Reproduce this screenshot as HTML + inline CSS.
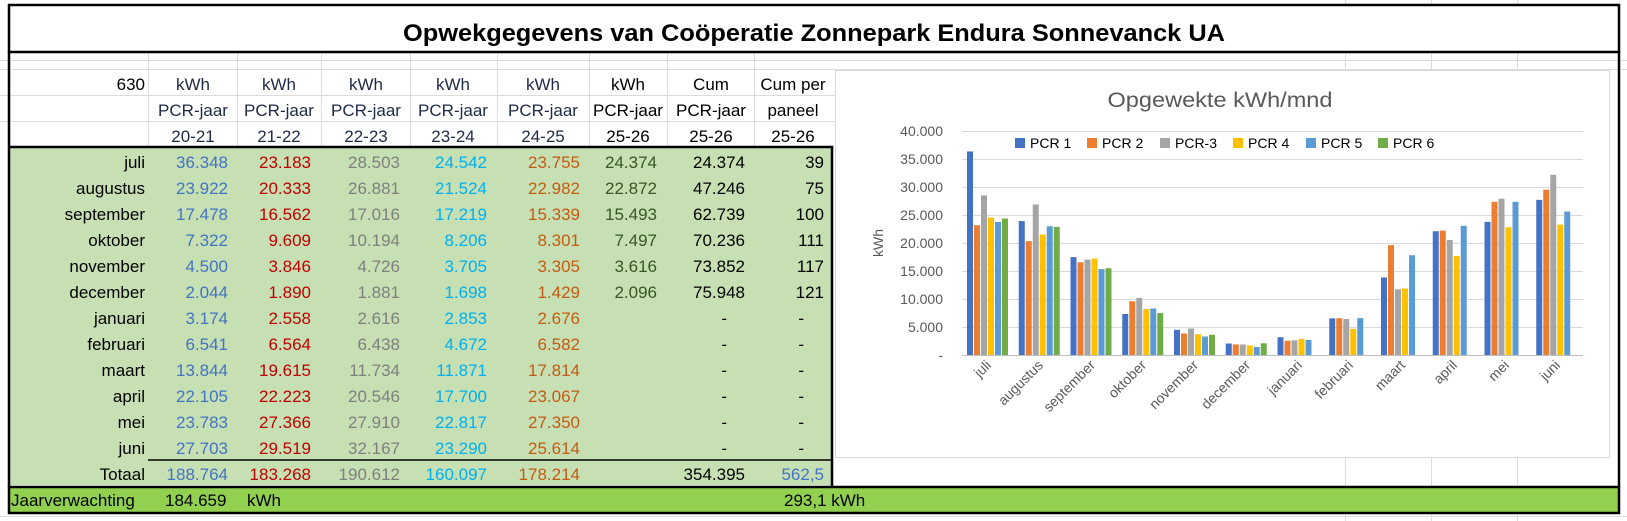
<!DOCTYPE html>
<html><head><meta charset="utf-8"><style>
html,body{margin:0;padding:0;background:#fff;}
svg{display:block;font-family:"Liberation Sans",Arial,sans-serif;}
</style></head><body>
<svg id="s" width="1627" height="521" viewBox="0 0 1627 521" xmlns="http://www.w3.org/2000/svg">
<!-- excel gridlines -->
<g stroke="#dcdcdc" stroke-width="1">
<line x1="0" y1="69.5" x2="1627" y2="69.5"/><line x1="0" y1="95.5" x2="835" y2="95.5"/><line x1="0" y1="121.5" x2="835" y2="121.5"/>
<line x1="0" y1="60.5" x2="1627" y2="60.5"/>
<line x1="148.5" y1="53" x2="148.5" y2="147"/><line x1="237.5" y1="53" x2="237.5" y2="147"/><line x1="321.5" y1="53" x2="321.5" y2="147"/>
<line x1="410.5" y1="53" x2="410.5" y2="147"/><line x1="497.5" y1="53" x2="497.5" y2="147"/><line x1="589.5" y1="53" x2="589.5" y2="147"/>
<line x1="667.5" y1="53" x2="667.5" y2="147"/><line x1="754.5" y1="53" x2="754.5" y2="147"/>
<line x1="1345.5" y1="0" x2="1345.5" y2="521"/><line x1="1431.5" y1="0" x2="1431.5" y2="521"/><line x1="1517.5" y1="0" x2="1517.5" y2="521"/>
<line x1="0" y1="516.5" x2="1627" y2="516.5"/>
</g>
<!-- green table -->
<rect x="9" y="147" width="823" height="338" fill="#c6e0b4"/>
<line x1="148" y1="460" x2="832" y2="460" stroke="#000" stroke-width="1.5"/>
<!-- bottom bar -->
<rect x="9" y="487" width="1610" height="26" fill="#92d050" stroke="#000" stroke-width="2.5"/>
<!-- frames -->
<rect x="9" y="5" width="1610" height="47" fill="#fff" stroke="#000" stroke-width="2.5"/>
<line x1="9" y1="52" x2="9" y2="487" stroke="#000" stroke-width="2.5"/>
<line x1="1619" y1="52" x2="1619" y2="487" stroke="#000" stroke-width="2.5"/>
<path d="M9 147 H832 V487" fill="none" stroke="#000" stroke-width="2.5"/>
<text x="814" y="41" text-anchor="middle" font-size="24" font-weight="bold" textLength="822" lengthAdjust="spacingAndGlyphs">Opwekgegevens van Coöperatie Zonnepark Endura Sonnevanck UA</text>

<!-- headers -->
<g font-size="17" text-anchor="middle" fill="#1f2a44">
<text x="145" y="90" text-anchor="end" fill="#000">630</text>
<text x="193" y="90">kWh</text><text x="279" y="90">kWh</text><text x="366" y="90">kWh</text><text x="453" y="90">kWh</text><text x="543" y="90">kWh</text><text x="628" y="90" fill="#000">kWh</text><text x="711" y="90" fill="#000">Cum</text><text x="793" y="90" fill="#000">Cum per</text>
<text x="193" y="116">PCR-jaar</text><text x="279" y="116">PCR-jaar</text><text x="366" y="116">PCR-jaar</text><text x="453" y="116">PCR-jaar</text><text x="543" y="116">PCR-jaar</text><text x="628" y="116" fill="#000">PCR-jaar</text><text x="711" y="116" fill="#000">PCR-jaar</text><text x="793" y="116" fill="#000">paneel</text>
<text x="193" y="142">20-21</text><text x="279" y="142">21-22</text><text x="366" y="142">22-23</text><text x="453" y="142">23-24</text><text x="543" y="142">24-25</text><text x="628" y="142" fill="#000">25-26</text><text x="711" y="142" fill="#000">25-26</text><text x="793" y="142" fill="#000">25-26</text>
</g>
<!-- labels -->
<g font-size="17" text-anchor="end" fill="#000">
<text x="145" y="168">juli</text><text x="145" y="194">augustus</text><text x="145" y="220">september</text><text x="145" y="246">oktober</text><text x="145" y="272">november</text><text x="145" y="298">december</text><text x="145" y="324">januari</text><text x="145" y="350">februari</text><text x="145" y="376">maart</text><text x="145" y="402">april</text><text x="145" y="428">mei</text><text x="145" y="454">juni</text><text x="145" y="480">Totaal</text>
</g>
<g font-size="17" text-anchor="end" fill="#4472c4">
<text x="228" y="168">36.348</text><text x="228" y="194">23.922</text><text x="228" y="220">17.478</text><text x="228" y="246">7.322</text><text x="228" y="272">4.500</text><text x="228" y="298">2.044</text><text x="228" y="324">3.174</text><text x="228" y="350">6.541</text><text x="228" y="376">13.844</text><text x="228" y="402">22.105</text><text x="228" y="428">23.783</text><text x="228" y="454">27.703</text><text x="228" y="480">188.764</text>
<text x="824" y="480">562,5</text>
</g>
<g font-size="17" text-anchor="end" fill="#c00000">
<text x="311" y="168">23.183</text><text x="311" y="194">20.333</text><text x="311" y="220">16.562</text><text x="311" y="246">9.609</text><text x="311" y="272">3.846</text><text x="311" y="298">1.890</text><text x="311" y="324">2.558</text><text x="311" y="350">6.564</text><text x="311" y="376">19.615</text><text x="311" y="402">22.223</text><text x="311" y="428">27.366</text><text x="311" y="454">29.519</text><text x="311" y="480">183.268</text>
</g>
<g font-size="17" text-anchor="end" fill="#7f7f7f">
<text x="400" y="168">28.503</text><text x="400" y="194">26.881</text><text x="400" y="220">17.016</text><text x="400" y="246">10.194</text><text x="400" y="272">4.726</text><text x="400" y="298">1.881</text><text x="400" y="324">2.616</text><text x="400" y="350">6.438</text><text x="400" y="376">11.734</text><text x="400" y="402">20.546</text><text x="400" y="428">27.910</text><text x="400" y="454">32.167</text><text x="400" y="480">190.612</text>
</g>
<g font-size="17" text-anchor="end" fill="#00b0f0">
<text x="487" y="168">24.542</text><text x="487" y="194">21.524</text><text x="487" y="220">17.219</text><text x="487" y="246">8.206</text><text x="487" y="272">3.705</text><text x="487" y="298">1.698</text><text x="487" y="324">2.853</text><text x="487" y="350">4.672</text><text x="487" y="376">11.871</text><text x="487" y="402">17.700</text><text x="487" y="428">22.817</text><text x="487" y="454">23.290</text><text x="487" y="480">160.097</text>
</g>
<g font-size="17" text-anchor="end" fill="#c55a11">
<text x="580" y="168">23.755</text><text x="580" y="194">22.982</text><text x="580" y="220">15.339</text><text x="580" y="246">8.301</text><text x="580" y="272">3.305</text><text x="580" y="298">1.429</text><text x="580" y="324">2.676</text><text x="580" y="350">6.582</text><text x="580" y="376">17.814</text><text x="580" y="402">23.067</text><text x="580" y="428">27.350</text><text x="580" y="454">25.614</text><text x="580" y="480">178.214</text>
</g>
<g font-size="17" text-anchor="end" fill="#375623">
<text x="657" y="168">24.374</text><text x="657" y="194">22.872</text><text x="657" y="220">15.493</text><text x="657" y="246">7.497</text><text x="657" y="272">3.616</text><text x="657" y="298">2.096</text>
</g>
<g font-size="17" text-anchor="end" fill="#000">
<text x="745" y="168">24.374</text><text x="745" y="194">47.246</text><text x="745" y="220">62.739</text><text x="745" y="246">70.236</text><text x="745" y="272">73.852</text><text x="745" y="298">75.948</text>
<text x="727" y="324">-</text><text x="727" y="350">-</text><text x="727" y="376">-</text><text x="727" y="402">-</text><text x="727" y="428">-</text><text x="727" y="454">-</text>
<text x="745" y="480">354.395</text>
<text x="824" y="168">39</text><text x="824" y="194">75</text><text x="824" y="220">100</text><text x="824" y="246">111</text><text x="824" y="272">117</text><text x="824" y="298">121</text>
<text x="804" y="324">-</text><text x="804" y="350">-</text><text x="804" y="376">-</text><text x="804" y="402">-</text><text x="804" y="428">-</text><text x="804" y="454">-</text>
</g>
<g font-size="17" fill="#000">
<text x="11" y="506">Jaarverwachting</text><text x="165" y="506">184.659</text><text x="247" y="506">kWh</text><text x="784" y="506">293,1 kWh</text>
</g>

<!-- chart -->
<rect x="835.5" y="70.5" width="774" height="387" fill="#fff" stroke="#d9d9d9"/>
<text x="1220" y="107" text-anchor="middle" font-size="21" fill="#595959" textLength="225" lengthAdjust="spacingAndGlyphs">Opgewekte kWh/mnd</text>
<g stroke="#d9d9d9" stroke-width="1">
<line x1="962" y1="131.5" x2="1583" y2="131.5"/><line x1="962" y1="159.5" x2="1583" y2="159.5"/><line x1="962" y1="187.5" x2="1583" y2="187.5"/><line x1="962" y1="215.5" x2="1583" y2="215.5"/><line x1="962" y1="243.5" x2="1583" y2="243.5"/><line x1="962" y1="271.5" x2="1583" y2="271.5"/><line x1="962" y1="299.5" x2="1583" y2="299.5"/><line x1="962" y1="327.5" x2="1583" y2="327.5"/>
</g>
<g font-size="14" fill="#595959" text-anchor="end">
<text x="943" y="136">40.000</text><text x="943" y="164">35.000</text><text x="943" y="192">30.000</text><text x="943" y="220">25.000</text><text x="943" y="248">20.000</text><text x="943" y="276">15.000</text><text x="943" y="304">10.000</text><text x="943" y="332">5.000</text><text x="943" y="360">-</text>
</g>
<text transform="translate(883,243) rotate(-90)" text-anchor="middle" font-size="14" fill="#595959">kWh</text>
<g id="bars"></g>
<line x1="962" y1="355.5" x2="1583" y2="355.5" stroke="#bfbfbf"/>
<g font-size="14" fill="#000">
<rect x="1015" y="138" width="10" height="10" fill="#4472c4"/><text x="1030" y="148">PCR 1</text>
<rect x="1087" y="138" width="10" height="10" fill="#ed7d31"/><text x="1102" y="148">PCR 2</text>
<rect x="1160" y="138" width="10" height="10" fill="#a5a5a5"/><text x="1175" y="148">PCR-3</text>
<rect x="1233" y="138" width="10" height="10" fill="#ffc000"/><text x="1248" y="148">PCR 4</text>
<rect x="1306" y="138" width="10" height="10" fill="#5b9bd5"/><text x="1321" y="148">PCR 5</text>
<rect x="1378" y="138" width="10" height="10" fill="#70ad47"/><text x="1393" y="148">PCR 6</text>
</g>
<g font-size="14" fill="#595959" text-anchor="end">
<text transform="translate(992,366) rotate(-45)">juli</text>
<text transform="translate(1044,366) rotate(-45)">augustus</text>
<text transform="translate(1096,366) rotate(-45)">september</text>
<text transform="translate(1147,366) rotate(-45)">oktober</text>
<text transform="translate(1199,366) rotate(-45)">november</text>
<text transform="translate(1251,366) rotate(-45)">december</text>
<text transform="translate(1303,366) rotate(-45)">januari</text>
<text transform="translate(1354,366) rotate(-45)">februari</text>
<text transform="translate(1406,366) rotate(-45)">maart</text>
<text transform="translate(1458,366) rotate(-45)">april</text>
<text transform="translate(1510,366) rotate(-45)">mei</text>
<text transform="translate(1561,366) rotate(-45)">juni</text>
</g>
</svg>
<script>
var d=[[36348,23922,17478,7322,4500,2044,3174,6541,13844,22105,23783,27703],
[23183,20333,16562,9609,3846,1890,2558,6564,19615,22223,27366,29519],
[28503,26881,17016,10194,4726,1881,2616,6438,11734,20546,27910,32167],
[24542,21524,17219,8206,3705,1698,2853,4672,11871,17700,22817,23290],
[23755,22982,15339,8301,3305,1429,2676,6582,17814,23067,27350,25614],
[24374,22872,15493,7497,3616,2096]];
var c=["#4472c4","#ed7d31","#a5a5a5","#ffc000","#5b9bd5","#70ad47"];
var g=document.getElementById("bars"),h="";
for(var s=0;s<6;s++)for(var m=0;m<d[s].length;m++){
var v=d[s][m],ht=v/5000*28,x=967+m*51.75+s*7;
h+='<rect x="'+x.toFixed(2)+'" y="'+(355-ht).toFixed(2)+'" width="6" height="'+ht.toFixed(2)+'" fill="'+c[s]+'"/>';}
g.innerHTML=h;
</script>
</body></html>
